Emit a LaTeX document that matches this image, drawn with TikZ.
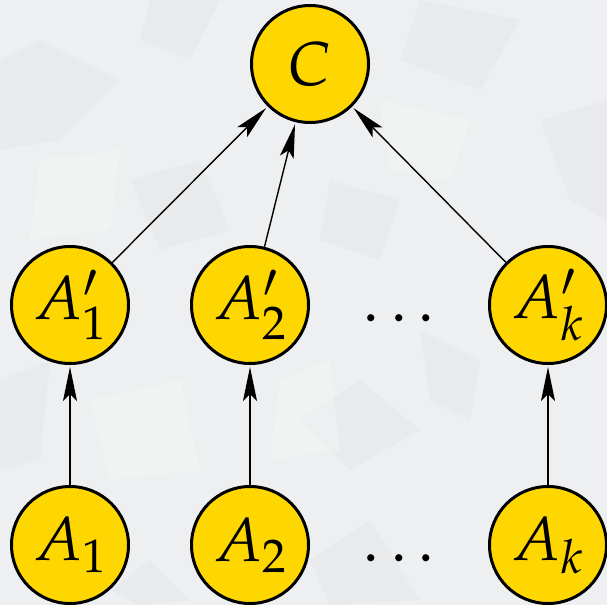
\documentclass[tikz,border=0pt]{standalone}
\usepackage{mathpazo}
\usetikzlibrary{arrows.meta}
\definecolor{bgpaper}{HTML}{EEEFF0}
\definecolor{bgshade}{HTML}{D9DCDE}
\definecolor{bglight}{HTML}{F6F7F7}
\definecolor{nodegold}{HTML}{FFD700}
\tikzset{
  vnode/.style={circle,draw=black,line width=3pt,fill=nodegold,minimum size=117pt,inner sep=0pt,
    font=\fontsize{62}{72}\selectfont},
  dotlabel/.style={inner sep=0pt,anchor=base,font=\fontsize{62}{72}\selectfont},
  edge/.style={line width=1.4pt,-{Stealth[length=34pt,width=14pt,inset=7pt]},shorten >=2pt},
  crease/.style={fill=bgshade,opacity=0.22},
  flat/.style={fill=bglight,opacity=0.4}
}
\begin{document}
\begin{tikzpicture}[x=1pt,y=-1pt]
\fill[bgpaper] (0,0) rectangle (607,605);
\useasboundingbox (0,0) rectangle (607,605);
% paper texture (subtle)
\fill[crease] (0,60) -- (40,40) -- (120,80) -- (60,140) -- (0,150) -- cycle;
\fill[crease] (150,0) -- (220,0) -- (190,60) -- (140,40) -- cycle;
\fill[crease] (420,0) -- (520,20) -- (480,90) -- (400,60) -- cycle;
\fill[crease] (540,120) -- (607,100) -- (607,220) -- (570,200) -- cycle;
\fill[crease] (130,180) -- (200,160) -- (230,230) -- (160,250) -- cycle;
\fill[crease] (330,180) -- (400,200) -- (380,260) -- (320,240) -- cycle;
\fill[crease] (0,380) -- (50,360) -- (40,460) -- (0,470) -- cycle;
\fill[crease] (300,420) -- (360,380) -- (420,430) -- (350,470) -- cycle;
\fill[crease] (420,330) -- (480,360) -- (470,420) -- (430,400) -- cycle;
\fill[crease] (150,560) -- (190,600) -- (140,605) -- (110,590) -- cycle;
\fill[crease] (310,560) -- (370,520) -- (420,600) -- (330,605) -- cycle;
\fill[flat] (40,160) -- (120,150) -- (110,230) -- (30,240) -- cycle;
\fill[flat] (280,380) -- (330,360) -- (340,450) -- (270,460) -- cycle;
\fill[flat] (380,100) -- (470,120) -- (450,180) -- (390,170) -- cycle;
\fill[flat] (90,400) -- (180,380) -- (200,470) -- (110,480) -- cycle;
% nodes
\node[vnode] (C) at (310,64) {$C$};
\node[vnode] (B1) at (70,305) {$A'_1$};
\node[vnode] (B2) at (250,305) {$A'_2$};
\node[vnode] (Bk) at (548,305) {$A'_k$};
\node[vnode] (A1) at (70,545) {$A_1$};
\node[vnode] (A2) at (250,545) {$A_2$};
\node[vnode] (Ak) at (548,545) {$A_k$};
\node[dotlabel] (d1) at (399,321) {$\ldots$};
\node[dotlabel] (d2) at (399,561) {$\ldots$};
% edges
\draw[edge] (B1) -- (C);
\draw[edge] (B2) -- (C);
\draw[edge] (Bk) -- (C);
\draw[edge] (A1) -- (B1);
\draw[edge] (A2) -- (B2);
\draw[edge] (Ak) -- (Bk);
\end{tikzpicture}
\end{document}
